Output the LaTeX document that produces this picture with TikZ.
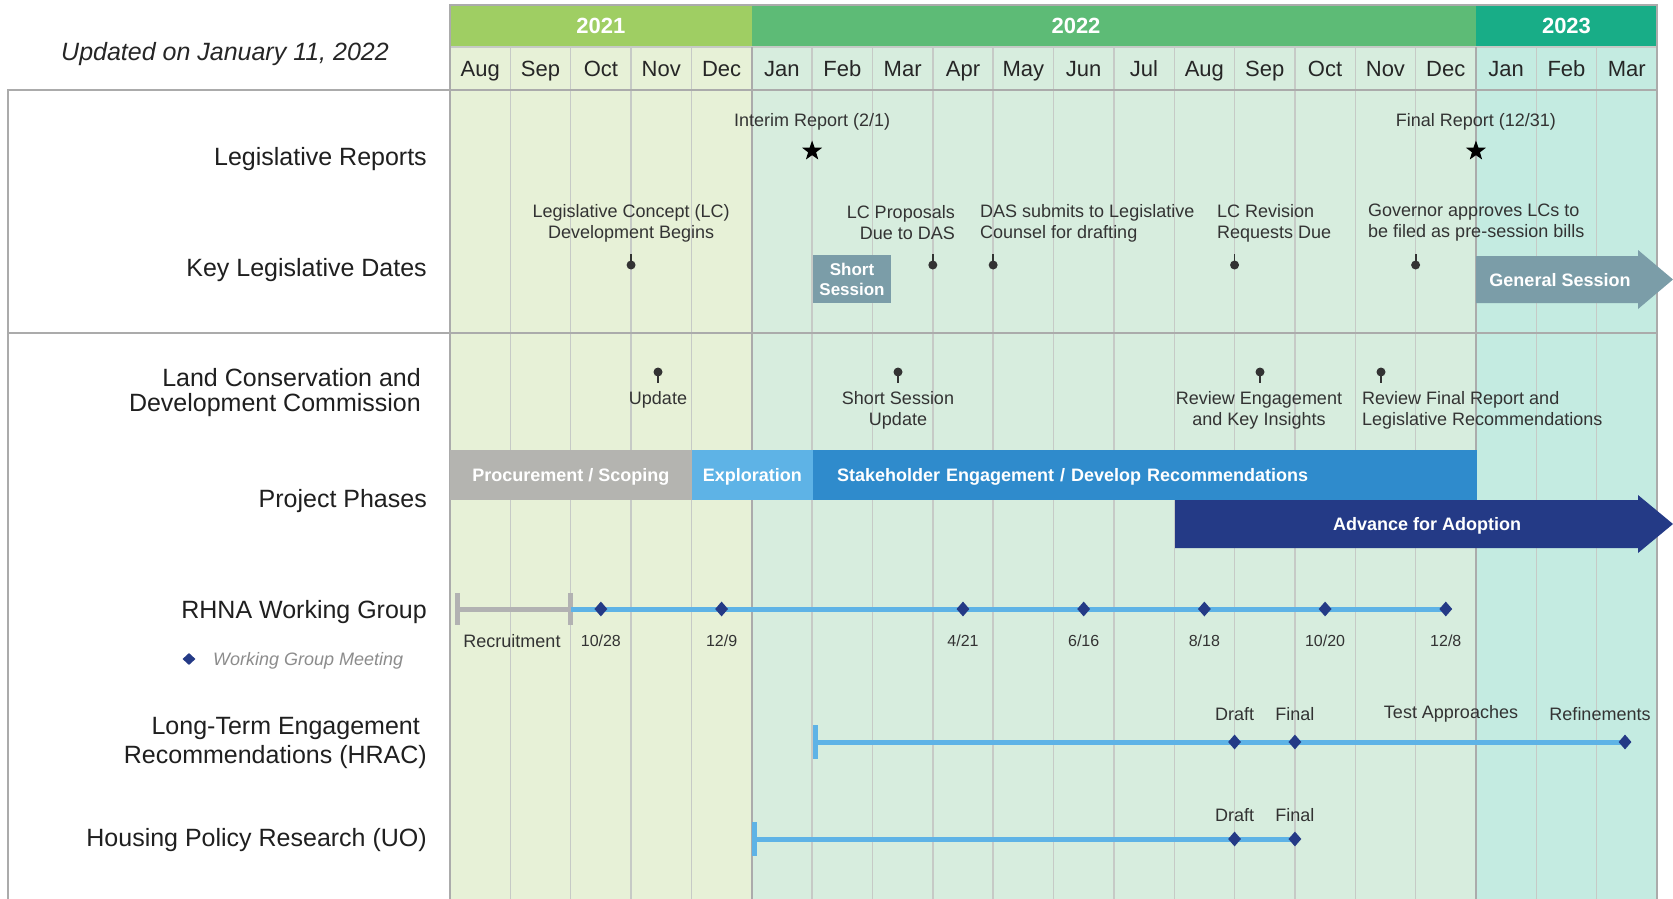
\documentclass[tikz,border=0pt]{standalone}
\usepackage{fontspec}
\setmainfont{Liberation Sans}
\usetikzlibrary{shapes.geometric}

\definecolor{headA}{HTML}{9FCE63}
\definecolor{headB}{HTML}{5DBB76}
\definecolor{headC}{HTML}{18AD87}
\definecolor{bodyA}{HTML}{E7F1D7}
\definecolor{bodyB}{HTML}{D7EDDE}
\definecolor{bodyC}{HTML}{C4EBE1}
\definecolor{gridgray}{HTML}{C6CAC6}
\definecolor{rulegray}{HTML}{ABABAB}
\definecolor{inkgray}{HTML}{333333}
\definecolor{scopegray}{HTML}{B4B4B0}
\definecolor{lightblue}{HTML}{5EB3E6}
\definecolor{midblue}{HTML}{2F8BCC}
\definecolor{navy}{HTML}{243A86}
\definecolor{session}{HTML}{7B9DA8}

\newcommand{\fsz}[2]{\fontsize{#1}{#2}\selectfont}
\def\cw{60.35}

\begin{document}
\begin{tikzpicture}[x=1pt, y=-1pt,
  rowlabel/.style={font=\fsz{25}{29}, text=black!88, align=right, anchor=east, inner sep=0},
  note/.style={font=\fsz{18}{21}, text=inkgray, inner sep=0},
  datelbl/.style={font=\fsz{16}{19}, text=inkgray, inner sep=0, text height=0.75em, text depth=0.25em},
  month/.style={font=\fsz{22}{26}, text=black!85, inner sep=0, text height=0.75em, text depth=0.25em},
  year/.style={font=\bfseries\fsz{22}{26}, text=white, inner sep=0, text height=0.75em, text depth=0.25em},
  dotpin/.style={circle, fill=inkgray, inner sep=0, minimum size=9},
  stem/.style={draw=inkgray, line width=1.8},
  meet/.style={diamond, fill=navy, inner sep=0, minimum width=13, minimum height=15},
  milestone/.style={star, star points=5, star point ratio=2.5, fill=black, inner sep=0, minimum size=21},
  phasebar/.style={text=white, font=\bfseries\fsz{18}{21}, inner sep=0, minimum height=50, text depth=0pt},
  boxlbl/.style={text=white, font=\bfseries\fsz{18}{21}, inner sep=0, text depth=0pt},
  track/.style={draw=lightblue, line width=5},
  recruit/.style={draw=black!30, line width=5},
  gridline/.style={draw=gridgray, line width=1.4},
  panelrule/.style={draw=rulegray, line width=2}]

  \useasboundingbox (0,0) rectangle (1673,899);
  \fill[white] (0,0) rectangle (1673,899);

  % month columns
  \fill[bodyA] (450,47) rectangle ({450+5*\cw},899);
  \fill[bodyB] ({450+5*\cw},47) rectangle ({450+17*\cw},899);
  \fill[bodyC] ({450+17*\cw},47) rectangle (1657,899);
  \fill[headA] (450,5) rectangle ({450+5*\cw},47);
  \fill[headB] ({450+5*\cw},5) rectangle ({450+17*\cw},47);
  \fill[headC] ({450+17*\cw},5) rectangle (1657,47);
  \foreach \i in {1,...,19}
    \draw[gridline] ({450+\i*\cw},47) -- ({450+\i*\cw},899);
  \draw[gridline] (450,47) -- (1657,47);
  \draw[panelrule] (450,899) -- (450,5) -- (1657,5) -- (1657,899);
  \foreach \i in {5,17}
    \draw[panelrule] ({450+\i*\cw},47) -- ({450+\i*\cw},899);
  \draw[panelrule] (8,899) -- (8,90) -- (1657,90);
  \draw[panelrule] (8,333) -- (1657,333);

  % header
  \node[year] (y21) at ({450+2.5*\cw},31) {2021};
  \node[year] (y22) at (1076,31) {2022};
  \node[year] (y23) at ({450+18.5*\cw},31) {2023};
  \foreach \m [count=\i from 0] in {Aug,Sep,Oct,Nov,Dec,Jan,Feb,Mar,Apr,May,Jun,Jul,Aug,Sep,Oct,Nov,Dec,Jan,Feb,Mar}
    \node[month] (m\i) at ({450+(\i+0.5)*\cw},74) {\m};
  \node[font=\itshape\fsz{25}{29}, text=black!85] (upd) at (225,54) {Updated on January 11, 2022};

  % row labels
  \node[rowlabel] (lr) at (427,159.5) {Legislative Reports};
  \node[rowlabel] (kl) at (427,270.5) {Key Legislative Dates};
  \node[rowlabel, font=\fsz{25}{25}] (lc) at (421,393) {Land Conservation and\\Development Commission};
  \node[rowlabel] (pp) at (427,501.5) {Project Phases};
  \node[rowlabel] (rh) at (427,612.5) {RHNA Working Group};
  \node[meet, minimum height=12] (key) at (189,659) {};
  \node[font=\itshape\fsz{18}{21}, text=black!45, anchor=west, inner sep=0] (keyt) at (213,661) {Working Group Meeting};
  \node[rowlabel] (lt) at (427,743) {Long-Term Engagement\hspace*{7pt}\\Recommendations (HRAC)};
  \node[rowlabel] (hp) at (427,840.5) {Housing Policy Research (UO)};

  % legislative reports
  \node[milestone] (s1) at ({450+6*\cw},151) {};
  \node[milestone] (s2) at ({450+17*\cw},151) {};
  \node[note] (n1) at ({450+6*\cw},122) {Interim Report (2/1)};
  \node[note] (n2) at ({450+17*\cw},122) {Final Report (12/31)};

  % key legislative dates
  \foreach \x [count=\i] in {3,8,9,13,16} {
    \draw[stem] ({450+\x*\cw},265) -- ++(0,-11);
    \node[dotpin] (k\i) at ({450+\x*\cw},265) {};
  }
  \node[note, align=center] (kd1) at ({450+3*\cw},223) {Legislative Concept (LC)\\Development Begins};
  \node[note, align=right, anchor=east] (kd2) at (955,223) {LC Proposals\\Due to DAS};
  \node[note, align=left, anchor=west] (kd3) at (980,223) {DAS submits to Legislative\\Counsel for drafting};
  \node[note, align=left, anchor=west] (kd4) at (1217,223) {LC Revision\\Requests Due};
  \node[note, align=left, anchor=west] (kd5) at (1368,223) {Governor approves LCs to\\be filed as pre-session bills};
  \node[fill=session, minimum width=78, minimum height=48, boxlbl, align=center, font=\bfseries\fsz{17}{20}] (ss) at (852,279) {Short\\Session};
  \fill[session] (1476,256) -- (1638,256) -- (1638,250) -- (1673,279.5) -- (1638,309) -- (1638,303) -- (1476,303) -- cycle;
  \node[boxlbl] (gs) at (1560,280) {General Session};

  % commission updates
  \foreach \x [count=\i] in {658,898,1260,1381} {
    \draw[stem] (\x,372) -- ++(0,11);
    \node[dotpin] (c\i) at (\x,372) {};
  }
  \node[note] (cn1) at (658,400) {Update};
  \node[note, align=center] (cn2) at (898,410.5) {Short Session\\Update};
  \node[note, align=center] (cn3) at (1259,410.5) {Review Engagement\\and Key Insights};
  \node[note, align=left, anchor=west] (cn4) at (1362,410.5) {Review Final Report and\\Legislative Recommendations};

  % project phases
  \node[phasebar, fill=scopegray, minimum width=241.4pt, anchor=west] (ph1) at (450,475) {Procurement / Scoping};
  \node[phasebar, fill=lightblue, minimum width=120.7pt, anchor=west] (ph2) at (ph1.east) {Exploration};
  \node[phasebar, fill=midblue, anchor=west, text width=615.85pt, inner xsep=24pt, align=left] (ph3) at (ph2.east) {Stakeholder Engagement / Develop Recommendations};
  \fill[navy] (1175,500) -- (1638,500) -- (1638,495) -- (1673,524) -- (1638,553) -- (1638,548) -- (1175,548) -- cycle;
  \node[phasebar] (ph4) at (1427,524) {Advance for Adoption};

  % RHNA working group
  \coordinate (r0) at (457,609);
  \coordinate (r1) at ({450+2*\cw},609);
  \foreach \x [count=\i] in {2.5,4.5,8.5,10.5,12.5,14.5,16.5}
    \coordinate (w\i) at ({450+\x*\cw},609);
  \draw[recruit] (r0) -- (r1);
  \draw[recruit] (r0) ++(0,-16) -- ++(0,32);
  \draw[recruit] (r1) ++(0,-16) -- ++(0,32);
  \draw[track] (r1) -- (w7);
  \foreach \i in {1,...,7}
    \node[meet] (d\i) at (w\i) {};
  \node[note] (rec) at (512,641) {Recruitment};
  \node[datelbl] (t1) at ({450+2.5*\cw},644) {10/28};
  \node[datelbl] (t2) at ({450+4.5*\cw},644) {12/9};
  \node[datelbl] (t3) at ({450+8.5*\cw},644) {4/21};
  \node[datelbl] (t4) at ({450+10.5*\cw},644) {6/16};
  \node[datelbl] (t5) at ({450+12.5*\cw},644) {8/18};
  \node[datelbl] (t6) at ({450+14.5*\cw},644) {10/20};
  \node[datelbl] (t7) at ({450+16.5*\cw},644) {12/8};

  % HRAC recommendations
  \coordinate (h0) at (815,742);
  \coordinate (h1) at ({450+13*\cw},742);
  \coordinate (h2) at ({450+14*\cw},742);
  \coordinate (h3) at (1625,742);
  \draw[track] (h0) -- (h3);
  \draw[track] (h0) ++(0,-17) -- ++(0,34);
  \foreach \i in {1,2,3}
    \node[meet] (hd\i) at (h\i) {};
  \node[note] (hl1) at ({450+13*\cw},714) {Draft};
  \node[note] (hl2) at ({450+14*\cw},714) {Final};
  \node[note] (hl3) at (1451,714) {Test Approaches};
  \node[note] (hl4) at (1600,714) {Refinements};

  % UO research
  \coordinate (u0) at (754,839);
  \coordinate (u1) at ({450+13*\cw},839);
  \coordinate (u2) at ({450+14*\cw},839);
  \draw[track] (u0) -- (u2);
  \draw[track] (u0) ++(0,-17) -- ++(0,34);
  \node[meet] (ud1) at (u1) {};
  \node[meet] (ud2) at (u2) {};
  \node[note] (ul1) at ({450+13*\cw},815) {Draft};
  \node[note] (ul2) at ({450+14*\cw},815) {Final};
\end{tikzpicture}
\end{document}
